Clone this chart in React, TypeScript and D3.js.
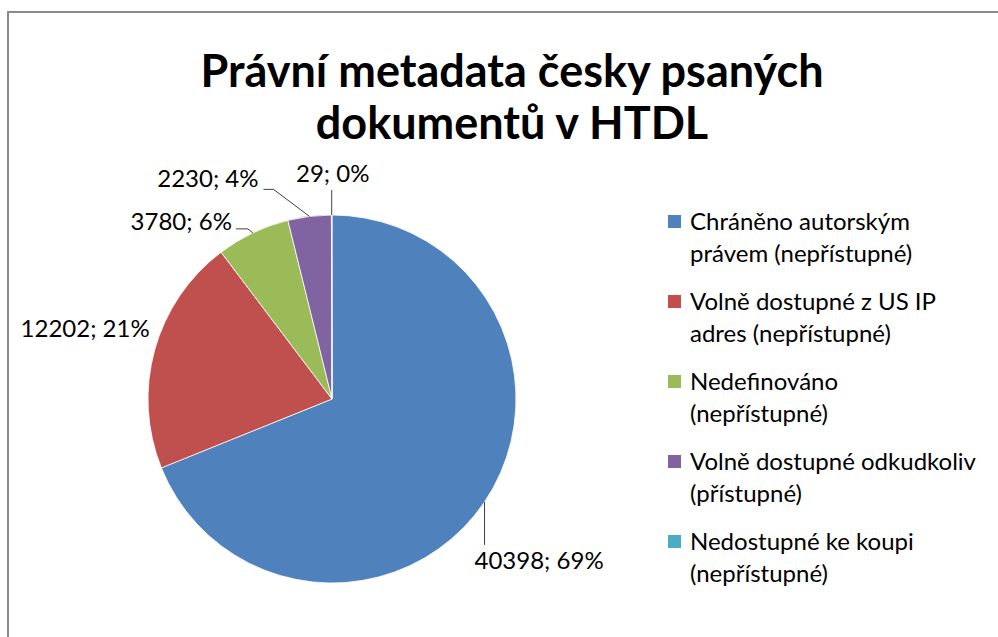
import React, { useEffect, useRef } from "react"
import * as d3 from "d3"

const titleLines = ["Právní metadata česky psaných", "dokumentů v HTDL"]
const categories = [
  ["Chráněno autorským", "právem (nepřístupné)"],
  ["Volně dostupné z US IP", "adres (nepřístupné)"],
  ["Nedefinováno", "(nepřístupné)"],
  ["Volně dostupné odkudkoliv", "(přístupné)"],
  ["Nedostupné ke koupi", "(nepřístupné)"],
]
const values = [40398, 12202, 3780, 2230, 29]
const colors = ["#4F81BD", "#C0504D", "#9BBB59", "#8064A2", "#4BACC6"]

// leader line bends and label offsets, relative to the point on the slice edge
const labelLayout = [
  { pts: [[0, 0], [0, 43]], text: [-10, 67], anchor: "start" },
  { pts: [], text: [-5, -13], anchor: "end" },
  { pts: [[0, 0], [-5, -4], [-17, -4]], text: [-21, -3], anchor: "end" },
  { pts: [[0, 0], [-36, -27], [-46, -27]], text: [-51, -29], anchor: "end" },
  { pts: [[0, 0], [0, -25]], text: [1, -33], anchor: "middle" },
]

const W = 998
const H = 637
const font = "Lato, 'Open Sans', sans-serif"

export default function App() {
  const ref = useRef<SVGSVGElement>(null)

  useEffect(() => {
    const svg = d3.select(ref.current)
    svg.selectAll("*").remove()

    // chart frame
    svg.append("rect")
      .attr("x", 8).attr("y", 12)
      .attr("width", W + 20).attr("height", H + 20)
      .attr("fill", "#fff")
      .attr("stroke", "#8a8a8a")
      .attr("stroke-width", 2)

    // title
    svg.append("text")
      .attr("text-anchor", "middle")
      .attr("font-family", font)
      .attr("font-weight", "bold")
      .attr("font-size", 45)
      .attr("fill", "#000")
      .selectAll("tspan")
      .data(titleLines)
      .join("tspan")
        .attr("x", 512)
        .attr("y", (d, i) => 87 + i * 52)
        .text(d => d)

    const cx = 332
    const cy = 399
    const radius = 184
    const total = d3.sum(values)

    const pie = d3.pie<number>().sort(null).value(d => d)
    const arcs = pie(values)
    const arc = d3.arc<d3.PieArcDatum<number>>().innerRadius(0).outerRadius(radius)

    const g = svg.append("g").attr("transform", `translate(${cx},${cy})`)

    g.selectAll("path.slice")
      .data(arcs)
      .join("path")
        .attr("class", "slice")
        .attr("d", arc)
        .attr("fill", (d, i) => colors[i])
        .attr("stroke", "#fff")
        .attr("stroke-width", 0.8)

    // data labels with leader lines
    arcs.forEach((a, i) => {
      const mid = (a.startAngle + a.endAngle) / 2
      const px = radius * Math.sin(mid)
      const py = -radius * Math.cos(mid)
      const lay = labelLayout[i]
      if (lay.pts.length) {
        g.append("path")
          .attr("d", d3.line()(lay.pts.map(p => [px + p[0], py + p[1]]) as [number, number][]))
          .attr("fill", "none")
          .attr("stroke", "#404040")
          .attr("stroke-width", 1)
      }
      const pct = Math.round((values[i] / total) * 100)
      g.append("text")
        .attr("x", px + lay.text[0])
        .attr("y", py + lay.text[1])
        .attr("text-anchor", lay.anchor)
        .attr("font-family", font)
        .attr("font-size", 24)
        .attr("fill", "#000")
        .text(`${values[i]}; ${pct}%`)
    })

    // legend
    const legend = svg.append("g").attr("transform", "translate(668,230)")
    const item = legend.selectAll("g")
      .data(categories)
      .join("g")
        .attr("transform", (d, i) => `translate(0,${i * 80})`)
    item.append("rect")
      .attr("x", 0).attr("y", -15)
      .attr("width", 13).attr("height", 13)
      .attr("fill", (d, i) => colors[i])
    item.append("text")
      .attr("font-family", font)
      .attr("font-size", 24)
      .attr("fill", "#000")
      .selectAll("tspan")
      .data(d => d)
      .join("tspan")
        .attr("x", 22)
        .attr("y", (d, i) => i * 32)
        .text(d => d)
  }, [])

  return (
    <svg ref={ref} width={W} height={H}
      style={{ position: "absolute", left: 0, top: 0, display: "block" }} />
  )
}
